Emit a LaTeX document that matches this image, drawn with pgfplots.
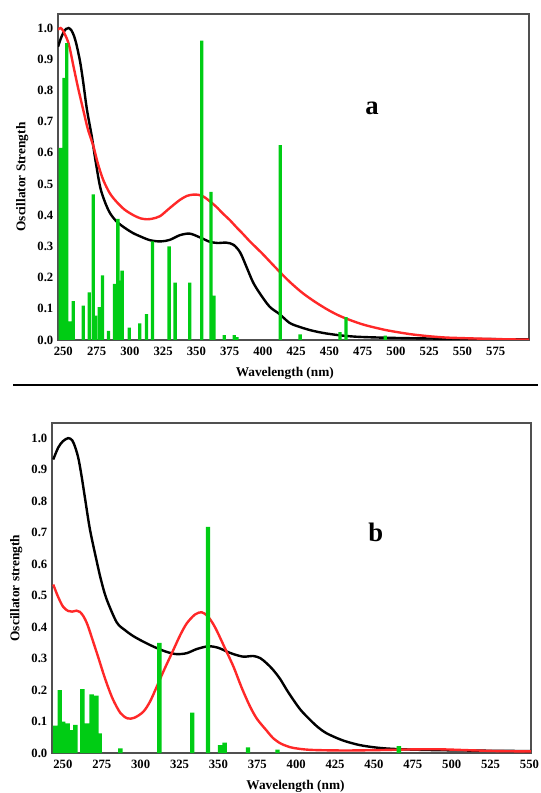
\documentclass[border=0pt]{standalone}
\usepackage{fontspec}
\setmainfont{Liberation Serif}
\usepackage{pgfplots}
\pgfplotsset{compat=1.18}
\definecolor{barg}{RGB}{0,204,20}
\definecolor{redl}{RGB}{255,40,40}
\definecolor{frame}{RGB}{80,80,80}
\pgfplotsset{
  common/.style={
    scale only axis,
    ymin=0,
    axis line style={draw=frame, line width=0.9pt},
    major tick length=0pt,
    ytick={0,0.1,...,1.0},
    yticklabel style={/pgf/number format/.cd, fixed, fixed zerofill, precision=1},
    xticklabel style={yshift=-1.5pt, /pgf/number format/.cd, fixed, precision=0, set thousands separator={}},
    /pgf/number format/assume math mode=true,
    ticklabel style={font=\bfseries\fontsize{9.5}{11}\selectfont},
    label style={font=\bfseries\fontsize{10}{12}\selectfont},
    xlabel={Wavelength (nm)},
    clip=true,
  }
}
\begin{document}
\begin{tikzpicture}
\path[use as bounding box] (0,0) rectangle (405pt,594.75pt);
% ---------- panel a ----------
\begin{axis}[common,
  at={(43.5pt,339.75pt)}, anchor=south west,
  width=353.25pt, height=244.5pt,
  xmin=246, xmax=600, ymax=1.045,
  xtick={250,275,...,575},
  ylabel={Oscillator Strength},
  xlabel style={xshift=-6.5pt, yshift=-2pt},
]
\addplot[black, line width=1.8pt, smooth] coordinates {
(246,0.94) (248,0.965) (250,0.985) (252,0.997) (254,1.0) (256,0.993) (258,0.975)
(260,0.945) (262.7,0.89) (265,0.825) (267.7,0.74) (271.5,0.65) (274,0.58)
(277.7,0.49) (281.5,0.44) (285.2,0.406) (290,0.38) (296,0.36) (302.7,0.342)
(309,0.33) (315,0.32) (322.7,0.316) (330,0.321) (337.6,0.336) (345,0.341)
(352.6,0.329) (360,0.315) (366,0.311) (372.6,0.312) (378,0.305) (383,0.28)
(387.6,0.235) (392.6,0.185) (397.6,0.15) (405,0.107) (412.5,0.083) (420,0.055)
(427.5,0.042) (437,0.03) (447.5,0.021) (460,0.014) (472.5,0.01) (495,0.007)
(522,0.005) (560,0.003) (600,0.002)};
\addplot[redl, line width=1.8pt, smooth] coordinates {
(246,0.995) (248,1.0) (250,0.99) (254,0.95) (257.7,0.876) (261,0.81) (265,0.737)
(268.5,0.675) (272.7,0.62) (276,0.565) (280,0.513) (285,0.47) (290,0.443)
(296,0.418) (302.7,0.40) (308,0.39) (312.7,0.387) (317,0.389) (322.7,0.397)
(330,0.423) (337.6,0.449) (343,0.462) (347.6,0.466) (352,0.465) (356,0.458)
(360,0.445) (365,0.427) (370,0.405) (375,0.385) (380,0.362) (385,0.34)
(390,0.317) (395,0.296) (400,0.275) (410,0.23) (420,0.187) (430,0.15)
(440,0.12) (450,0.094) (460,0.073) (475,0.05) (490,0.034) (500,0.026)
(512,0.018) (525,0.012) (537,0.008) (550,0.006) (575,0.003) (600,0.001)};
\addplot[ybar, bar width=2.5pt, bar shift=0pt, fill=barg, draw=none] coordinates {
(247.8,0.616) (249.2,0.16) (250.5,0.84) (252.6,0.952) (255,0.06) (257.5,0.125)
(265,0.11) (269.5,0.153) (272.5,0.467) (274.2,0.078) (277,0.105) (279.5,0.207)
(284,0.029) (288.5,0.18) (291,0.388) (292.5,0.19) (294.2,0.222) (299.5,0.04)
(307.5,0.053) (312.5,0.083) (317,0.316) (329.5,0.30) (334,0.184) (345,0.184)
(354,0.96) (361,0.475) (363.2,0.142) (371,0.016) (378.5,0.016) (380.5,0.009)
(413,0.625) (428,0.018) (458,0.025) (462.5,0.073) (492,0.014)};
\node[font=\bfseries\fontsize{20}{24}\selectfont] at (rel axis cs:0.667,0.712) {a};
\end{axis}
\draw[black, line width=0.9pt] (9.75pt,306pt) -- (403.5pt,306pt);
% ---------- panel b ----------
\begin{axis}[common,
  at={(39pt,30pt)}, anchor=south west,
  width=359.25pt, height=247.5pt,
  xmin=243, xmax=551, ymax=1.048,
  xtick={250,275,...,550},
  ylabel={Oscillator strength},
  xlabel style={xshift=3pt, yshift=-2.5pt},
]
\addplot[black, line width=1.8pt, smooth] coordinates {
(243.8,0.932) (247,0.97) (250,0.99) (253.4,1.0) (256,0.993) (258,0.97) (260,0.935)
(262,0.88) (264.2,0.81) (267.4,0.71) (271.7,0.61) (274.5,0.55) (278,0.49) (284.6,0.415)
(290,0.39) (295,0.372) (300,0.358) (306,0.343) (311,0.332) (316.8,0.321) (323,0.314)
(329.6,0.317) (336,0.33) (343.6,0.339) (350,0.334) (355,0.323) (359.7,0.314) (366,0.306)
(372.5,0.308) (377,0.301) (381,0.285) (385,0.265) (389.7,0.235) (394,0.2) (398.3,0.168)
(403,0.136) (409,0.105) (414,0.082) (419.8,0.062) (430,0.04) (441,0.025)
(452,0.017) (462.7,0.013) (480,0.01) (505.6,0.008) (530,0.007) (551,0.006)};
\addplot[redl, line width=1.8pt, smooth] coordinates {
(243.8,0.535) (247,0.495) (250.2,0.464) (253.4,0.451) (256,0.449) (258.8,0.452)
(261,0.448) (263.5,0.432) (266,0.405) (269.5,0.353) (273,0.3) (276,0.253)
(279,0.21) (282.4,0.168) (287,0.127) (291.5,0.11) (296,0.112) (301.7,0.131)
(306,0.163) (310.3,0.21) (315,0.263) (321,0.327) (325.5,0.375) (329.7,0.412)
(335,0.44) (339.3,0.447) (343,0.435) (346,0.415) (349,0.388) (354,0.335)
(359.7,0.274) (365,0.207) (370.4,0.147) (375,0.107) (381.2,0.07) (385,0.048)
(389.7,0.031) (394,0.022) (398.3,0.016) (409,0.01) (430,0.008) (450,0.009)
(470,0.011) (490,0.012) (510,0.009) (530,0.006) (551,0.005)};
\addplot[ybar, bar width=3.3pt, bar shift=0pt, fill=barg, draw=none] coordinates {
(245,0.087) (248,0.2) (250.2,0.1) (253,0.094) (255.5,0.073) (258,0.089)
(262.5,0.203) (265.5,0.094) (268.5,0.186) (271.5,0.182) (273.6,0.062)
(287,0.015) (312,0.35) (333.2,0.128) (343.3,0.718) (351,0.025) (354,0.033)
(369,0.018) (388,0.011) (466,0.022)};
\node[font=\bfseries\fontsize{20}{24}\selectfont] at (rel axis cs:0.676,0.67) {b};
\end{axis}
\end{tikzpicture}
\end{document}
